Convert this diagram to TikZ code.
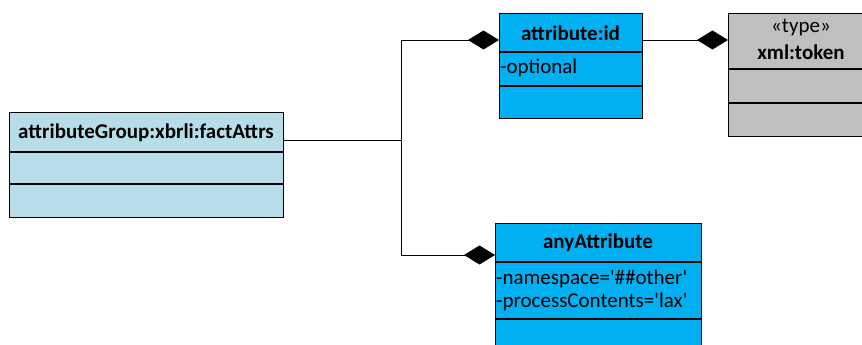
\documentclass[tikz,border=0pt]{standalone}
\usepackage{fontspec}
\setmainfont{Carlito}
\newfontfamily\plainf{Carlito}
\usetikzlibrary{arrows.meta}
\definecolor{lb}{RGB}{183,222,232}
\definecolor{cy}{RGB}{0,176,240}
\definecolor{gr}{RGB}{191,191,191}
\tikzset{
  box/.style={draw, line width=1.3pt, anchor=north west, inner sep=0pt, rectangle},
  ttl/.style={font=\fontsize{21}{24}\selectfont\bfseries, inner sep=0pt},
  attr/.style={font=\plainf\fontsize{21}{24}\selectfont, inner sep=0pt, anchor=west},
  comp/.style={line width=1.3pt},
  conn/.style={line width=0.8pt, -{Diamond[length=31pt,width=19pt]}},
  plain/.style={line width=0.8pt}
}
\begin{document}
\begin{tikzpicture}[x=1pt,y=-1pt]
\useasboundingbox (0,0) rectangle (862,345);
\begin{scope}
\clip (0,0) rectangle (862,345);
% left box
\node[box, fill=lb, minimum width=274pt, minimum height=105pt] (fa) at (9,112) {};
\draw[comp] (9,152) -- (283,152);
\draw[comp] (9,184) -- (283,184);
\node[ttl] (fat) at (146,133) {attributeGroup:xbrli:factAttrs};
% attribute:id
\node[box, fill=cy, minimum width=143pt, minimum height=105pt] (id) at (499,13) {};
\draw[comp] (499,52) -- (642,52);
\draw[comp] (499,86) -- (642,86);
\node[ttl] (idt) at (570.5,33) {attribute:id};
\node[attr] (ida) at (500,68) {-optional};
% xml:token
\node[box, fill=gr, minimum width=150pt, minimum height=123pt] (tok) at (728,13) {};
\draw[comp] (728,69) -- (878,69);
\draw[comp] (728,103) -- (878,103);
\node[font=\fontsize{21}{24}\selectfont, inner sep=0pt] (tks) at (801,28) {«type»};
\node[ttl] (tkt) at (801,52) {xml:token};
% anyAttribute
\node[box, fill=cy, minimum width=206pt, minimum height=140pt] (any) at (495,223) {};
\draw[comp] (495,262) -- (701,262);
\draw[comp] (495,319) -- (701,319);
\node[ttl] (anyt) at (598,243) {anyAttribute};
\node[attr] (any1) at (496,279) {-namespace='\#\#other'};
\node[attr] (any2) at (496,302) {-processContents='lax'};
\end{scope}
% connectors
\coordinate (s) at (283,140);
\coordinate (j) at (401,140);
\coordinate (jt) at (401,40);
\coordinate (jb) at (401,255);
\coordinate (idl) at (499,40);
\coordinate (anyl) at (495,255);
\coordinate (idr) at (642,40);
\coordinate (tokl) at (728,40);
\draw[plain] (s) -- (j);
\draw[conn] (jb) -- (jt) -- (idl);
\draw[conn] (jb) -- (anyl);
\draw[conn] (idr) -- (tokl);
\end{tikzpicture}
\end{document}
